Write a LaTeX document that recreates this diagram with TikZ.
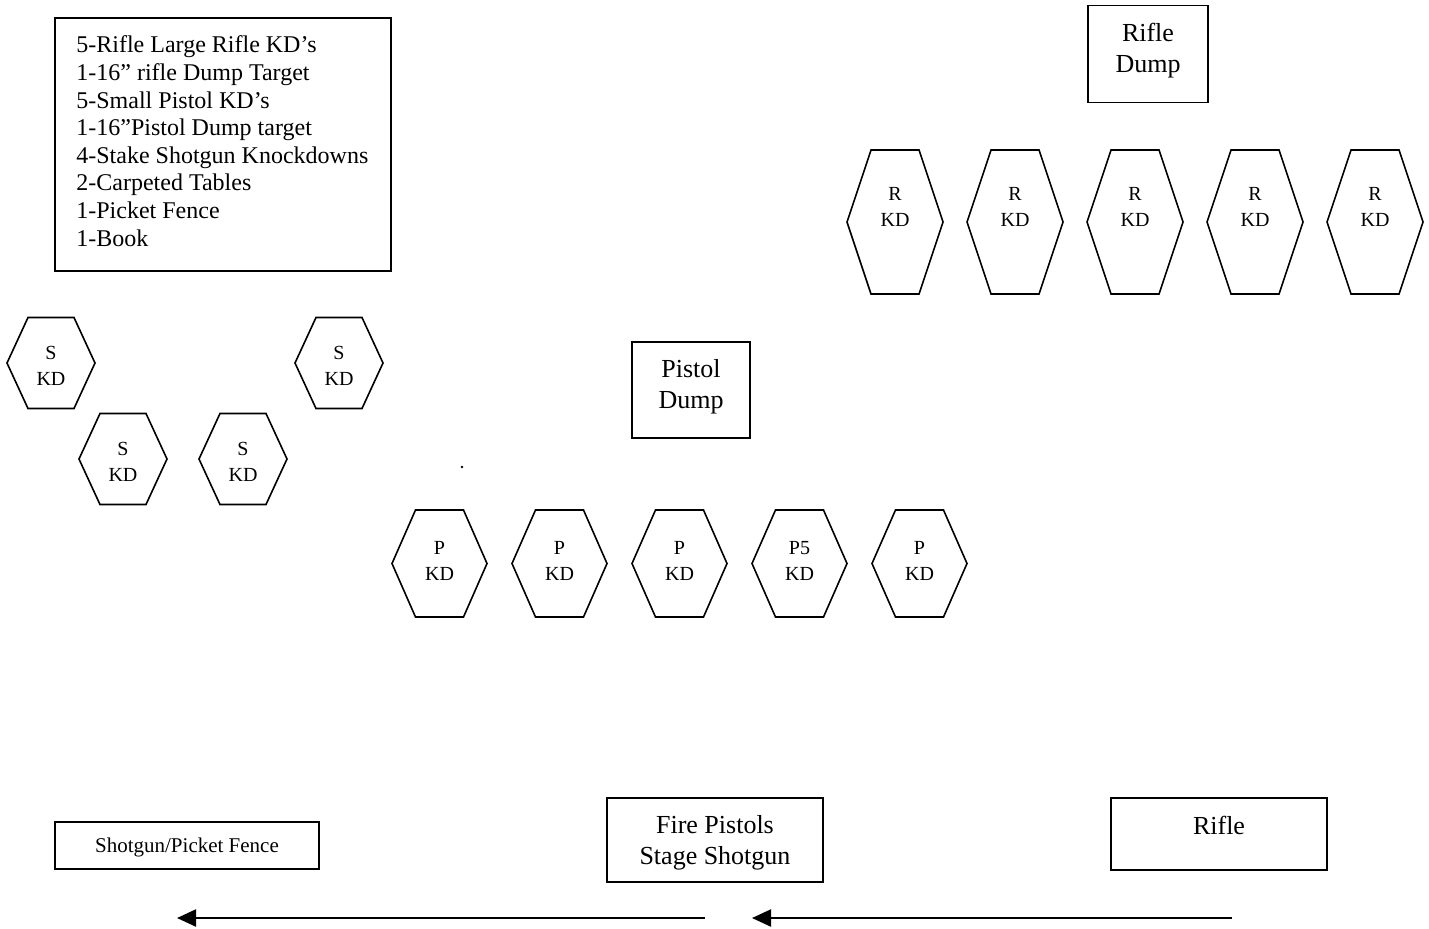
\documentclass[tikz,border=0pt]{standalone}
\usepackage{fontspec}
\setmainfont{Liberation Serif}
\usetikzlibrary{arrows.meta}

\begin{document}
\begin{tikzpicture}[x=0.5pt,y=-0.5pt,
    hexline/.style={line width=0.8pt, line join=miter},
    box/.style={draw, line width=0.8pt, rectangle, inner sep=0pt},
    kdtext/.style={align=center, font=\fontsize{10}{13}\selectfont, inner sep=0pt},
    boxtext/.style={align=center, font=\fontsize{13}{15.5}\selectfont, inner sep=0pt},
    flowarrow/.style={line width=1.1pt, -{Triangle[length=9.5pt,width=8.5pt]}}]
                    % Page size in pixels of the layout
                    \useasboundingbox (0,0) rectangle (1429,928);

                    % Equipment list (top left)
                    \node[box, minimum width=168pt, minimum height=126.5pt] (list) at (223,144.5) {};
                    \node[anchor=base west, align=left, inner sep=0pt,
                          font=\fontsize{12}{13.79}\selectfont] (listtext) at (76,246)
                        {5-Rifle Large Rifle KD’s\\
                         1-16” rifle Dump Target\\
                         5-Small Pistol KD’s\\
                         1-16”Pistol Dump target\\
                         4-Stake Shotgun Knockdowns\\
                         2-Carpeted Tables\\
                         1-Picket Fence\\
                         1-Book};

                    % Dump targets
                    \node[box, minimum width=60pt, minimum height=48.5pt] (riflebox) at (1148,54) {};
                    \node[boxtext] (rifledump) at (1148,50.5) {Rifle\\Dump};
                    \node[box, minimum width=59pt, minimum height=48pt] (pistolbox) at (691,390) {};
                    \node[boxtext] (pistoldump) at (691,386.5) {Pistol\\Dump};

                    % Rifle knockdowns (tall hexagons)
                    \foreach \cx [count=\i] in {895,1015,1135,1255,1375} {
                        \draw[hexline] (\cx-48,222) -- (\cx-24,150) -- (\cx+24,150)
                            -- (\cx+48,222) -- (\cx+24,294) -- (\cx-24,294) -- cycle;
                        \node[kdtext] (r\i) at (\cx,206.5) {R\\KD};
                    }

                    % Pistol knockdowns
                    \foreach \cx/\lbl [count=\i] in {439.5/P,559.5/P,679.5/P,799.5/P5,919.5/P} {
                        \draw[hexline] (\cx-47.5,563.5) -- (\cx-24,510) -- (\cx+24,510)
                            -- (\cx+47.5,563.5) -- (\cx+24,617) -- (\cx-24,617) -- cycle;
                        \node[kdtext] (p\i) at (\cx,561) {\lbl\\KD};
                    }

                    % Shotgun knockdowns
                    \foreach \cx/\cy [count=\i] in {51/363,123/459,243/459,339/363} {
                        \draw[hexline] (\cx-44,\cy) -- (\cx-23,\cy-45.5) -- (\cx+23,\cy-45.5)
                            -- (\cx+44,\cy) -- (\cx+23,\cy+45.5) -- (\cx-23,\cy+45.5) -- cycle;
                        \node[kdtext] (s\i) at (\cx,\cy+2.5) {S\\KD};
                    }

                    % Stray dot
                    \fill (462,467) circle (1.3);

                    % Shooting positions
                    \node[box, minimum width=132pt, minimum height=23.5pt] (shotgunbox) at (187,845.5) {};
                    \node[inner sep=0pt, font=\fontsize{10.5}{12}\selectfont] (shotgun) at (187,847) {Shotgun/Picket Fence};
                    \node[box, minimum width=108pt, minimum height=42pt] (firebox) at (715,840) {};
                    \node[boxtext] (fire) at (715,842.5) {Fire Pistols\\Stage Shotgun};
                    \node[box, minimum width=108pt, minimum height=36pt] (riflepos) at (1219,834) {};
                    \node[boxtext] (rifle) at (1219,825) {Rifle};

                    % Direction of movement
                    \coordinate (m1start) at (705,918);
                    \coordinate (m1end) at (177,918);
                    \coordinate (m2start) at (1232,918);
                    \coordinate (m2end) at (752,918);
                    \draw[flowarrow] (m1start) -- (m1end);
                    \draw[flowarrow] (m2start) -- (m2end);
\end{tikzpicture}
\end{document}
